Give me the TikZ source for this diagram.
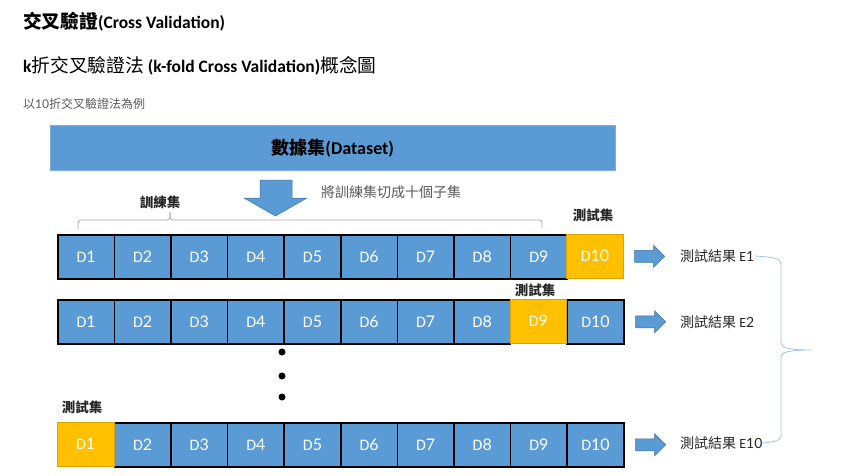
\documentclass[tikz,border=0pt]{standalone}
\usepackage{fontspec}
\setmainfont{Carlito}[Numbers=Lining]
\newfontfamily\cjk{Noto Sans CJK TC}
\newfontfamily\cjkt{Noto Sans CJK TC}[Scale=1.07]
\newfontfamily\digfont{Lato}
\usetikzlibrary{calc}
\definecolor{dblue}{HTML}{5B9BD5}
\definecolor{dorange}{HTML}{FFC000}
\definecolor{arrowedge}{HTML}{41719C}
\definecolor{lblue}{HTML}{9DC3E6}
\definecolor{txtdark}{HTML}{262626}
\definecolor{txtgray}{HTML}{595959}
\definecolor{bracegray}{HTML}{A6A6A6}
\newcommand{\fs}[1]{\fontsize{#1}{#1}\selectfont}
\begin{document}
\begin{tikzpicture}[x=1pt,y=-1pt,
  fold/.style={draw=black, line width=1.6pt, fill=dblue, minimum width=56.6pt,
    minimum height=44pt, inner sep=0pt, anchor=north west, text=white, font=\fs{16},
    text height=10.5pt, text depth=0pt},
  testfold/.style={fold, draw=dorange!85!black, line width=0.6pt, fill=dorange},
  lbl/.style={inner sep=0pt, text=txtdark, font=\fs{13.5}\cjk\bfseries},
  res/.style={inner sep=0pt, anchor=west, text=txtdark, font=\fs{14}},
  blockarrow/.style={fill=dblue, draw=arrowedge, line width=0.5pt},
  rarrow/.pic={\path[blockarrow] (0,-6) -- (19,-6) -- (19,-11) -- (30,0) -- (19,11) -- (19,6) -- (0,6) -- cycle;}
]
\useasboundingbox (0,0) rectangle (857,475);

% titles
\node[anchor=west, inner sep=0pt, font=\fs{17.5}] (t1) at (23,22)
  {\bfseries{\cjkt 交叉驗證}(Cross Validation)};
\node[anchor=west, inner sep=0pt, font=\fs{17.5}] (t2) at (23,66)
  {\textbf{k}{\cjkt 折交叉驗證法} \textbf{(k-fold Cross Validation)}{\cjkt 概念圖}};
\node[anchor=west, inner sep=0pt, font=\fs{12}, text=txtgray] (t3) at (23,104)
  {{\cjk 以}{\digfont 10}{\cjk 折交叉驗證法為例}};

% dataset
\node[fill=dblue, draw=dblue!80!white, line width=0.5pt, minimum width=565pt, minimum height=45pt,
  inner sep=0pt, anchor=north west, font=\fs{18}] (ds) at (50,125)
  {\bfseries{\cjk 數據集}(Dataset)};

% down arrow
\path[blockarrow] (260,180) -- (292,180) -- (292,198) -- (307,198) -- (275.5,216) -- (244,198) -- (260,198) -- cycle;
\node[inner sep=0pt, text=txtgray, font=\fs{14}\cjk] (split) at (391,192) {將訓練集切成十個子集};

% brace over training set
\draw[bracegray, line width=0.7pt, rounded corners=3pt] (78,229) -- (78,220) -- (170,220) -- (170,212);
\draw[bracegray, line width=0.7pt, rounded corners=3pt] (170,212) -- (170,220) -- (542,220) -- (542,228);
\node[lbl] (train) at (160,202) {訓練集};

% rows
\foreach \r/\y/\t in {1/234/10, 2/299/9, 3/422/1} {
  \foreach \i in {1,...,10} {
    \pgfmathsetmacro\xx{57+(\i-1)*56.6}
    \ifnum\i=\t\relax\else
      \node[fold] (r\r-\i) at (\xx,\y) {D{\digfont\i}};
    \fi
  }
  \pgfmathsetmacro\xx{57+(\t-1)*56.6}
  \node[testfold] (r\r-\t) at (\xx,\y) {D{\digfont\t}};
}

% test-set labels
\node[lbl] (test1) at (593,215) {測試集};
\node[lbl] (test2) at (535,290) {測試集};
\node[lbl] (test3) at (82,407) {測試集};

% results
\node[res] (res1) at (680,256) {{\cjk 測試結果} E{\digfont 1}};
\node[res] (res2) at (680,322) {{\cjk 測試結果} E{\digfont 2}};
\node[res] (res3) at (680,443) {{\cjk 測試結果} E{\digfont 10}};

\path ($(r1-10.east)+(11,0)$) pic {rarrow};
\path ($(r2-10.east)+(11,0)$) pic {rarrow};
\path ($(r3-10.east)+(11,0)$) pic {rarrow};

% dots
\fill (282,352) circle (3.5pt);
\fill (282,376) circle (3.5pt);
\fill (282,397) circle (3.5pt);

% right brace
\draw[lblue, line width=0.8pt] (res1.east) .. controls (772,257) and (781,258) .. (781,264)
  -- (781,343) .. controls (781,348) and (790,350) .. (812,350)
  .. controls (790,350) and (781,352) .. (781,357)
  -- (781,436) .. controls (781,441) and (772,442) .. (res3.east);
\end{tikzpicture}
\end{document}
